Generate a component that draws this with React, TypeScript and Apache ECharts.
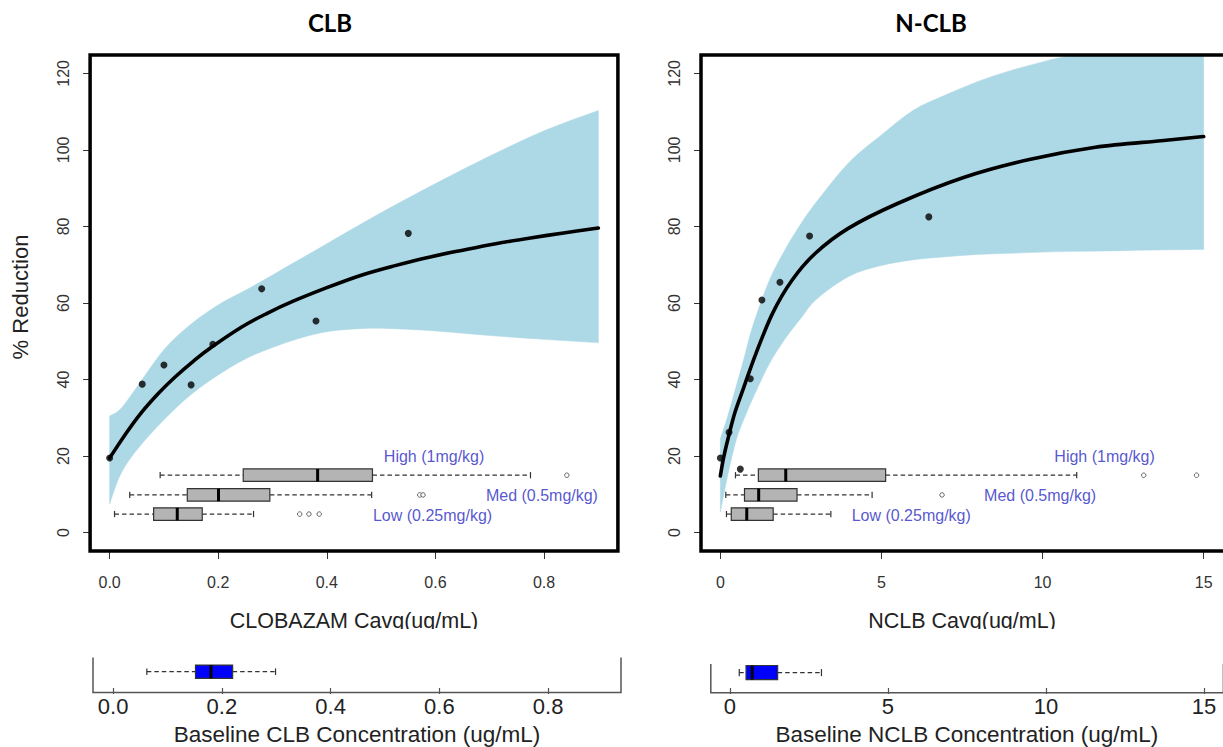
import React, { useEffect, useRef } from "react";
import * as echarts from "echarts";

// ---------- data ----------
// CLB panel (x: CLOBAZAM Cavg ug/mL, y: % reduction)
const clbObsX = [0, 0.06, 0.1, 0.15, 0.19, 0.28, 0.38, 0.55];
const clbObsY = [19.5, 38.8, 43.8, 38.6, 49.2, 63.7, 55.3, 78.2];
const clbFitX = [0, 0.03, 0.057, 0.09, 0.12, 0.155, 0.188, 0.244, 0.29, 0.337, 0.4, 0.462, 0.524, 0.586, 0.65, 0.711, 0.775, 0.836, 0.9];
const clbFitY = [19.5, 25.9, 31.1, 36.4, 40.6, 44.9, 48.5, 53.8, 57.3, 60.4, 64.0, 67.2, 69.7, 71.9, 73.8, 75.5, 77.0, 78.3, 79.6];
const clbBandX = [0, 0.02, 0.05, 0.1, 0.15, 0.2, 0.25, 0.3, 0.35, 0.4, 0.45, 0.5, 0.6, 0.7, 0.8, 0.9];
const clbUpper = [30.5, 32.3, 38.0, 47.8, 54.5, 59.5, 63.3, 67.3, 71.4, 75.5, 79.6, 83.6, 91.2, 98.4, 105.0, 110.3];
const clbLower = [7.5, 15.2, 21.6, 29.5, 36.1, 41.2, 45.4, 48.4, 50.8, 52.5, 53.2, 53.4, 52.7, 51.5, 50.5, 49.6];

// dose-group box plots (High, Med, Low)
const doseLabels = ["High (1mg/kg)", "Med (0.5mg/kg)", "Low (0.25mg/kg)"];
const doseBoxY = [15.0, 9.85, 4.85];
const clbWhiskerLo = [0.093, 0.037, 0.009];
const clbQ1 = [0.246, 0.143, 0.081];
const clbMedian = [0.383, 0.2005, 0.1245];
const clbQ3 = [0.484, 0.295, 0.1705];
const clbWhiskerHi = [0.775, 0.4825, 0.265];
const clbOutliers = [[0.842], [0.571, 0.577], [0.35, 0.367, 0.386]];
const clbLabelX = [0.504, 0.692, 0.484];
const clbLabelY = [19.8, 9.6, 4.4];

// N-CLB panel
const nclbObsX = [0, 0.27, 0.62, 0.93, 1.29, 1.85, 2.77, 6.47];
const nclbObsY = [19.5, 26.2, 16.6, 40.2, 60.8, 65.4, 77.5, 82.5];
const nclbFitX = [0, 0.1, 0.24, 0.45, 0.7, 1.11, 1.62, 2.23, 2.95, 3.97, 5.5, 7.55, 9.59, 11.64, 13.68, 15.0];
const nclbFitY = [14.8, 19.5, 24.6, 31.3, 37.3, 46.9, 57.3, 66.0, 73.0, 79.5, 86.0, 92.8, 97.5, 100.7, 102.4, 103.5];
const nclbBandX = [0, 0.25, 0.5, 0.75, 1, 1.5, 2, 2.5, 3, 4, 5, 6, 7, 8, 9, 10, 11, 12, 13, 14, 15];
const nclbUpper = [24.5, 31.0, 38.5, 46.0, 53.8, 65.5, 73.8, 80.7, 86.6, 96.8, 103.9, 110.4, 114.4, 117.9, 120.7, 123.0, 124.8, 124.8, 124.8, 124.8, 124.8];
const nclbLower = [5.4, 15.8, 24.4, 30.0, 34.9, 43.8, 50.5, 56.0, 61.1, 67.0, 69.8, 71.3, 72.1, 72.7, 73.0, 73.3, 73.5, 73.6, 73.8, 73.9, 74.0];

const nclbWhiskerLo = [0.47, 0.17, 0.19];
const nclbQ1 = [1.18, 0.75, 0.34];
const nclbMedian = [2.03, 1.19, 0.82];
const nclbQ3 = [5.13, 2.38, 1.64];
const nclbWhiskerHi = [11.06, 4.71, 3.43];
const nclbOutliers = [[13.14, 14.78], [6.88], []];
const nclbLabelX = [10.35, 8.17, 4.06];
const nclbLabelY = [19.9, 9.8, 4.6];

// baseline concentration box plots: [whiskerLo, q1, median, q3, whiskerHi]
const clbBaseline = [0.062, 0.1515, 0.18, 0.2198, 0.2987];
const nclbBaseline = [0.3, 0.515, 0.708, 1.514, 2.9];
const baselineBoxY = [0.535, 0.641];

// tick values
const yTicks = [0, 20, 40, 60, 80, 100, 120];
const clbTicks = [0, 0.2, 0.4, 0.6, 0.8];
const nclbTicks = [0, 5, 10, 15];

// ---------- layout / style ----------
const FONT = "'Liberation Sans', Arial, Helvetica, sans-serif";
const G = [
  { left: 90.1, top: 55, width: 527.8, height: 496 },
  { left: 701, top: 55, width: 528.1, height: 496 },
  { left: 93, top: 657.5, width: 528, height: 35 },
  { left: 710.8, top: 664, width: 512.6, height: 28.7 },
];
const BAND = "#add8e6";

function zip(xs: number[], ys: number[]) {
  return xs.map((x, i) => [x, ys[i]]);
}

// Catmull-Rom spline through pixel points, as SVG path commands
function spline(pts: number[][], start: "M" | "L") {
  const f = (p: number[]) => p[0].toFixed(2) + " " + p[1].toFixed(2);
  let d = start + f(pts[0]);
  for (let i = 0; i < pts.length - 1; i++) {
    const p0 = pts[i - 1] || pts[i];
    const p1 = pts[i];
    const p2 = pts[i + 1];
    const p3 = pts[i + 2] || p2;
    const c1 = [p1[0] + (p2[0] - p0[0]) / 6, p1[1] + (p2[1] - p0[1]) / 6];
    const c2 = [p2[0] - (p3[0] - p1[0]) / 6, p2[1] - (p3[1] - p1[1]) / 6];
    d += " C" + f(c1) + " " + f(c2) + " " + f(p2);
  }
  return d;
}

function bandSeries(idx: number, xs: number[], upper: number[], lower: number[]) {
  return {
    type: "custom",
    xAxisIndex: idx,
    yAxisIndex: idx,
    z: 1,
    clip: true,
    silent: true,
    encode: { x: 0, y: 1 },
    data: [[xs[0], upper[0]]],
    renderItem: (_p: any, api: any) => {
      const up = xs.map((x, i) => api.coord([x, upper[i]]));
      const lo = xs.map((x, i) => api.coord([x, lower[i]])).reverse();
      const d = spline(up, "M") + " " + spline(lo, "L") + " Z";
      return { type: "path", shape: { pathData: d }, style: { fill: BAND, stroke: BAND, lineWidth: 0.5 } };
    },
  };
}

function curveSeries(idx: number, xs: number[], ys: number[]) {
  return {
    type: "custom",
    xAxisIndex: idx,
    yAxisIndex: idx,
    z: 5,
    clip: true,
    silent: true,
    encode: { x: 0, y: 1 },
    data: [[xs[0], ys[0]]],
    renderItem: (_p: any, api: any) => {
      const pts = xs.map((x, i) => api.coord([x, ys[i]]));
      return {
        type: "path",
        shape: { pathData: spline(pts, "M") },
        style: { fill: "none", stroke: "#000", lineWidth: 3.6, lineCap: "round", lineJoin: "round" },
      };
    },
  };
}

function boxSeries(xi: number, yi: number, rows: number[][], halfH: number, fill: string) {
  return {
    type: "custom",
    xAxisIndex: xi,
    yAxisIndex: yi,
    z: 3,
    silent: true,
    encode: { x: 3, y: 0 },
    data: rows,
    renderItem: (_p: any, api: any) => {
      const y = api.value(0);
      const pLo = api.coord([api.value(1), y]);
      const pQ1 = api.coord([api.value(2), y]);
      const pMed = api.coord([api.value(3), y]);
      const pQ3 = api.coord([api.value(4), y]);
      const pHi = api.coord([api.value(5), y]);
      const cy = pMed[1];
      const dash = { stroke: "#333", lineWidth: 1.2, lineDash: [4.5, 3] };
      const solid = { stroke: "#333", lineWidth: 1.2 };
      const sh = halfH * 0.5;
      return {
        type: "group",
        children: [
          { type: "line", shape: { x1: pLo[0], y1: cy, x2: pQ1[0], y2: cy }, style: dash },
          { type: "line", shape: { x1: pQ3[0], y1: cy, x2: pHi[0], y2: cy }, style: dash },
          { type: "line", shape: { x1: pLo[0], y1: cy - sh, x2: pLo[0], y2: cy + sh }, style: solid },
          { type: "line", shape: { x1: pHi[0], y1: cy - sh, x2: pHi[0], y2: cy + sh }, style: solid },
          {
            type: "rect",
            shape: { x: pQ1[0], y: cy - halfH, width: pQ3[0] - pQ1[0], height: halfH * 2 },
            style: { fill, stroke: "#333", lineWidth: 1.2 },
          },
          { type: "line", shape: { x1: pMed[0], y1: cy - halfH, x2: pMed[0], y2: cy + halfH }, style: { stroke: "#000", lineWidth: 3 } },
        ],
      };
    },
  };
}

function outlierData(out: number[][]) {
  const d: number[][] = [];
  out.forEach((xs, i) => xs.forEach((x) => d.push([x, doseBoxY[i]])));
  return d;
}

function mainXAxis(gridIndex: number, min: number, max: number, ticks: number[], digits: number, name: string) {
  return {
    type: "value",
    gridIndex,
    min,
    max,
    axisLine: { show: false, onZero: false },
    axisTick: { show: true, length: 8, customValues: ticks, lineStyle: { color: "#333", width: 1 } },
    axisLabel: {
      customValues: ticks,
      formatter: (v: number) => v.toFixed(digits),
      margin: 23,
      fontSize: 16,
      color: "#333",
      fontFamily: FONT,
    },
    splitLine: { show: false },
    name,
    nameLocation: "middle",
    nameGap: 59,
    nameTextStyle: { fontSize: 21.5, color: "#222", fontFamily: FONT },
  };
}

function mainYAxis(gridIndex: number) {
  return {
    type: "value",
    gridIndex,
    min: -4.8,
    max: 124.8,
    axisLine: { show: false, onZero: false },
    axisTick: { show: true, length: 7, customValues: yTicks, lineStyle: { color: "#333", width: 1 } },
    axisLabel: { customValues: yTicks, rotate: 90, margin: 19, fontSize: 16, color: "#333", fontFamily: FONT },
    splitLine: { show: false },
  };
}

function baseXAxis(gridIndex: number, min: number, max: number, ticks: number[], digits: number, name: string) {
  return {
    type: "value",
    gridIndex,
    min,
    max,
    axisLine: { show: false, onZero: false },
    axisTick: { show: true, length: 6, customValues: ticks, lineStyle: { color: "#555", width: 1.2 } },
    axisLabel: {
      customValues: ticks,
      formatter: (v: number) => v.toFixed(digits),
      margin: 7,
      fontSize: 22,
      color: "#222",
      fontFamily: FONT,
    },
    splitLine: { show: false },
    name,
    nameLocation: "middle",
    nameGap: 35,
    nameTextStyle: { fontSize: 22.5, color: "#222", fontFamily: FONT },
  };
}

function labelSeries(idx: number, xs: number[], ys: number[]) {
  return {
    type: "scatter",
    xAxisIndex: idx,
    yAxisIndex: idx,
    z: 6,
    silent: true,
    symbolSize: 1,
    itemStyle: { color: "rgba(0,0,0,0)" },
    label: {
      show: true,
      position: "right",
      distance: 0,
      formatter: "{b}",
      color: "#2a2ac4",
      fontSize: 16,
      fontFamily: FONT,
    },
    data: doseLabels.map((t, i) => ({ name: t, value: [xs[i], ys[i]] })),
  };
}

function rows(lo: number[], q1: number[], med: number[], q3: number[], hi: number[]) {
  return doseBoxY.map((y, i) => [y, lo[i], q1[i], med[i], q3[i], hi[i]]);
}

const option: any = {
  animation: false,
  backgroundColor: "#fff",
  grid: G.map((g) => ({ ...g, show: false })),
  xAxis: [
    mainXAxis(0, -0.036, 0.936, clbTicks, 1, "CLOBAZAM Cavg(ug/mL)"),
    mainXAxis(1, -0.6, 15.6, nclbTicks, 0, "NCLB Cavg(ug/mL)"),
    baseXAxis(2, -0.037, 0.934, clbTicks, 1, "Baseline CLB Concentration (ug/mL)"),
    baseXAxis(3, -0.6, 15.6, nclbTicks, 0, "Baseline NCLB Concentration (ug/mL)"),
  ],
  yAxis: [
    mainYAxis(0),
    mainYAxis(1),
    { type: "value", gridIndex: 2, min: 0, max: 1, show: false },
    { type: "value", gridIndex: 3, min: 0, max: 1, show: false },
  ],
  series: [
    bandSeries(0, clbBandX, clbUpper, clbLower),
    bandSeries(1, nclbBandX, nclbUpper, nclbLower),
    boxSeries(0, 0, rows(clbWhiskerLo, clbQ1, clbMedian, clbQ3, clbWhiskerHi), 6.25, "#b4b4b4"),
    boxSeries(1, 1, rows(nclbWhiskerLo, nclbQ1, nclbMedian, nclbQ3, nclbWhiskerHi), 6.25, "#b4b4b4"),
    boxSeries(2, 2, [[baselineBoxY[0], ...clbBaseline]], 6.6, "#0000ff"),
    boxSeries(3, 3, [[baselineBoxY[1], ...nclbBaseline]], 7.1, "#0000ff"),
    ...[
      [0, clbOutliers],
      [1, nclbOutliers],
    ].map(([idx, out]: any) => ({
      type: "scatter",
      xAxisIndex: idx,
      yAxisIndex: idx,
      z: 4,
      silent: true,
      symbol: "circle",
      symbolSize: 4.5,
      itemStyle: { color: "#fff", borderColor: "#444", borderWidth: 1 },
      data: outlierData(out),
    })),
    curveSeries(0, clbFitX, clbFitY),
    curveSeries(1, nclbFitX, nclbFitY),
    ...[
      [0, clbObsX, clbObsY],
      [1, nclbObsX, nclbObsY],
    ].map(([idx, xs, ys]: any) => ({
      type: "scatter",
      xAxisIndex: idx,
      yAxisIndex: idx,
      z: 6,
      silent: true,
      symbol: "circle",
      symbolSize: 7,
      itemStyle: { color: "#000" },
      data: zip(xs, ys),
    })),
    labelSeries(0, clbLabelX, clbLabelY),
    labelSeries(1, nclbLabelX, nclbLabelY),
  ],
  graphic: [
    ...[G[0], G[1]].map((g) => ({
      type: "rect",
      z: 100,
      silent: true,
      shape: { x: g.left, y: g.top, width: g.width, height: g.height },
      style: { fill: "none", stroke: "#000", lineWidth: 3.5 },
    })),
    ...[G[2], G[3]].map((g) => ({
      type: "polyline",
      z: 100,
      silent: true,
      shape: {
        points: [
          [g.left, g.top],
          [g.left, g.top + g.height],
          [g.left + g.width, g.top + g.height],
          [g.left + g.width, g.top],
        ],
      },
      style: { fill: "none", stroke: "#555", lineWidth: 1.5 },
    })),
    {
      type: "rect",
      z: 90,
      silent: true,
      shape: { x: 0, y: 629, width: 1223, height: 26 },
      style: { fill: "#fff" },
    },
    {
      type: "text",
      x: 330,
      y: 22,
      z: 100,
      style: { text: "CLB", fontSize: 24, fontWeight: "bold", fontFamily: "Lato, " + FONT, fill: "#000", textAlign: "center", textVerticalAlign: "middle" },
    },
    {
      type: "text",
      x: 931,
      y: 22,
      z: 100,
      style: { text: "N-CLB", fontSize: 24, fontWeight: "bold", fontFamily: "Lato, " + FONT, fill: "#000", textAlign: "center", textVerticalAlign: "middle" },
    },
    {
      type: "text",
      x: 20,
      y: 297,
      rotation: Math.PI / 2,
      z: 100,
      style: { text: "% Reduction", fontSize: 22, fontFamily: FONT, fill: "#222", textAlign: "center", textVerticalAlign: "middle" },
    },
  ],
};

export default function App() {
  const ref = useRef<HTMLDivElement>(null);
  useEffect(() => {
    if (!ref.current) return;
    const chart = echarts.init(ref.current, null, { renderer: "svg" });
    chart.setOption(option);
    return () => chart.dispose();
  }, []);
  return (
    <div
      ref={ref}
      style={{ position: "absolute", left: 0, top: 0, width: 1223, height: 747, background: "#fff" }}
    />
  );
}
